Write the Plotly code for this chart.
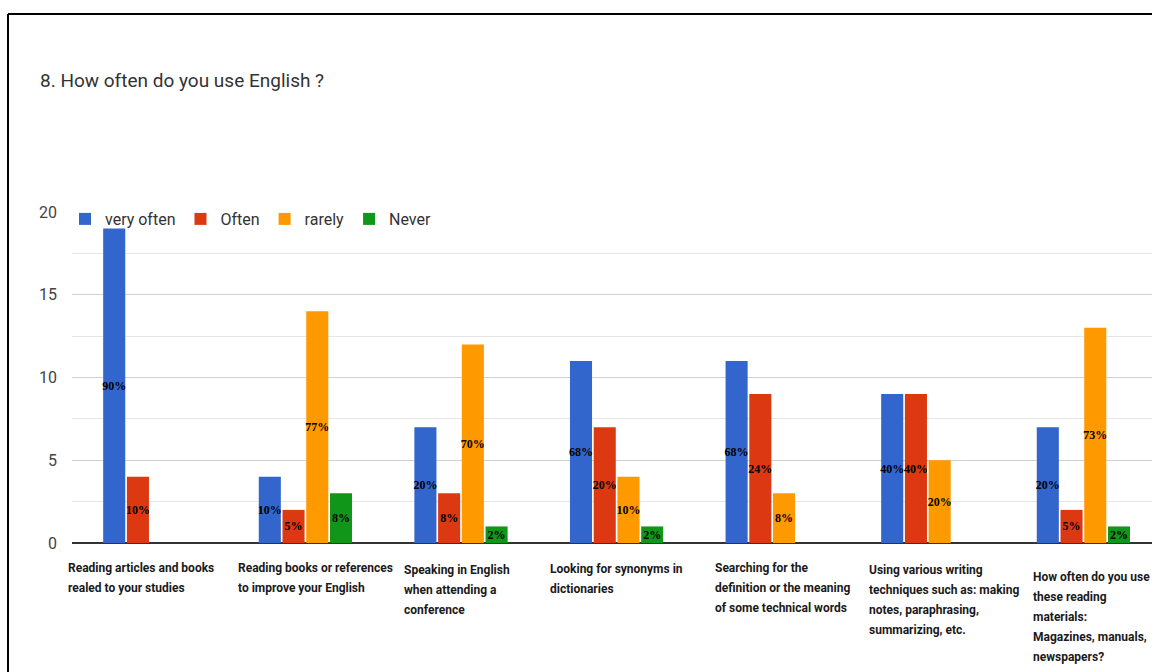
import plotly.graph_objects as go

categories = [
    "Reading articles and books<br>realed to your studies",
    "Reading books or references<br>to improve your English",
    "Speaking in English<br>when attending a<br>conference",
    "Looking for synonyms in<br>dictionaries",
    "Searching for the<br>definition or the meaning<br>of some technical words",
    "Using various writing<br>techniques such as: making<br>notes, paraphrasing,<br>summarizing, etc.",
    "How often do you use<br>these reading<br>materials:<br>Magazines, manuals,<br>newspapers?",
]
series_names = ["very often", "Often", "rarely", "Never"]
very_often = [19, 4, 7, 11, 11, 9, 7]
often = [4, 2, 3, 7, 9, 9, 2]
rarely = [0, 14, 12, 4, 3, 5, 13]
never = [0, 3, 1, 1, 0, 0, 1]
very_often_pct = ["90%", "10%", "20%", "68%", "68%", "40%", "20%"]
often_pct = ["10%", "5%", "8%", "20%", "24%", "40%", "5%"]
rarely_pct = ["", "77%", "70%", "10%", "8%", "20%", "73%"]
never_pct = ["", "8%", "2%", "2%", "", "", "2%"]
colors = ["#3366cc", "#dc3912", "#ff9900", "#109618"]
y_ticks = [0, 5, 10, 15, 20]

values = [very_often, often, rarely, never]
pcts = [very_often_pct, often_pct, rarely_pct, never_pct]

xs = list(range(len(categories)))

fig = go.Figure()
for name, vals, pct, col in zip(series_names, values, pcts, colors):
    fig.add_trace(go.Bar(
        x=xs, y=vals, name=name, text=pct,
        marker=dict(color=col, line=dict(width=0)),
        textposition="inside", insidetextanchor="middle",
        textangle=0, constraintext="none",
        textfont=dict(family="Liberation Serif", size=12, color="#000000", weight="bold"),
    ))

W, H = 1152, 672
L, T, B = 72, 212, 129
pw, ph = W - L, H - T - B

def px_x(p):
    return (p - L) / pw

def px_y(p):
    return (H - B - p) / ph

# layout: horizontal shift of each label block from its category centre, and first-line top
label_shift = [-84, -69, -59, -69, -59, -61, -52]
label_top = [559, 559, 561, 560, 559, 561, 568]
line_step = 20

annotations = []
for i, lab in enumerate(categories):
    for j, line in enumerate(lab.split("<br>")):
        annotations.append(dict(
            x=i, y=px_y(label_top[i] + j * line_step), xref="x", yref="paper",
            text=line, showarrow=False, xanchor="left", yanchor="top", align="left",
            xshift=label_shift[i],
            font=dict(family="Roboto", size=12, color="#1a1a1a", weight="bold"),
        ))

fig.update_layout(
    width=W, height=H,
    margin=dict(l=L, r=0, t=T, b=B, pad=0),
    paper_bgcolor="white", plot_bgcolor="white",
    barmode="group", bargap=0.39, bargroupgap=0.07,
    title=dict(text="8. How often do you use English ?", x=40 / W, xref="container",
               y=1 - 80 / H, yref="container", xanchor="left", yanchor="middle",
               font=dict(family="Roboto", size=19, color="#333333")),
    legend=dict(orientation="h", x=px_x(65), y=px_y(219), xanchor="left", yanchor="middle",
                bgcolor="rgba(0,0,0,0)", font=dict(family="Roboto", size=16, color="#333333"),
                traceorder="normal"),
    xaxis=dict(range=[-0.5, -0.5 + pw / 155.6], showticklabels=False, showgrid=False,
               zeroline=False, showline=False, ticks=""),
    yaxis=dict(range=[0, 20], tickvals=y_ticks, showgrid=True, gridcolor="#d0d0d0", gridwidth=1,
               minor=dict(dtick=2.5, showgrid=True, gridcolor="#e6e6e6", gridwidth=1),
               zeroline=True, zerolinecolor="#333333", zerolinewidth=2,
               tickfont=dict(family="Roboto", size=16, color="#444444"), ticks="",
               ticklabelstandoff=14),
    annotations=annotations,
    shapes=[
        dict(type="line", xref="paper", yref="paper", x0=px_x(8), x1=px_x(1160), y0=px_y(14), y1=px_y(14),
             line=dict(color="black", width=2)),
        dict(type="line", xref="paper", yref="paper", x0=px_x(8), x1=px_x(8), y0=px_y(14), y1=px_y(680),
             line=dict(color="black", width=2)),
    ],
)

fig.write_html("out.html")
